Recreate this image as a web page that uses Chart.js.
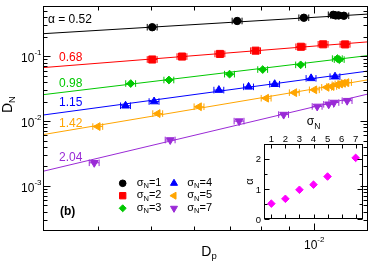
<!DOCTYPE html>
<html>
<head>
<meta charset="utf-8">
<script src="https://cdn.jsdelivr.net/npm/chart.js@4.4.1/dist/chart.umd.min.js"></script>
<style>
  html, body { margin: 0; padding: 0; background: #fff; }
  #wrap { position: relative; width: 374px; height: 264px; }
  #main { position: absolute; left: 0; top: 0; }
  #inset { position: absolute; left: 230px; top: 112px; }
</style>
</head>
<body>
<div id="wrap">
  <canvas id="main" width="374" height="264"></canvas>
  <canvas id="inset" width="140" height="116"></canvas>
</div>
<script>
// sigma_N values and fitted exponents
const sigmaN = [1, 2, 3, 4, 5, 7];
const alphaFit = [0.52, 0.68, 0.98, 1.15, 1.42, 2.04];

// D_p / D_N points per sigma_N
const dp1 = [0.00503, 0.00722, 0.00959, 0.01087, 0.01098, 0.01112, 0.01137];
const dn1 = [0.282, 0.352, 0.395, 0.439, 0.429, 0.429, 0.424];
const dp2 = [0.00503, 0.00571, 0.00671, 0.00781, 0.00947, 0.01041, 0.01143];
const dn2 = [0.0894, 0.0993, 0.109, 0.1224, 0.1407, 0.1535, 0.153];
const dp3 = [0.00459, 0.00540, 0.00699, 0.00805, 0.00946, 0.01106, 0.01115];
const dn3 = [0.0380, 0.0431, 0.0531, 0.0625, 0.0739, 0.0923, 0.0891];
const dp4 = [0.00449, 0.00507, 0.00668, 0.00758, 0.00847, 0.00989, 0.01095];
const dn4 = [0.01724, 0.02002, 0.0301, 0.03376, 0.03708, 0.0457, 0.04849];
const dp5 = [0.00399, 0.00515, 0.00614, 0.00817, 0.00921, 0.01003, 0.01057, 0.01080, 0.01105, 0.01119, 0.01133, 0.01150];
const dn5 = [0.00822, 0.01305, 0.01665, 0.02254, 0.02749, 0.0304, 0.0332, 0.0342, 0.0364, 0.0375, 0.0384, 0.0393];
const dp7 = [0.00393, 0.00543, 0.00728, 0.00880, 0.01015, 0.01066, 0.01090, 0.01153];
const dn7 = [0.002266, 0.0051, 0.00998, 0.0126, 0.01683, 0.01816, 0.01934, 0.02065];

// fit lines: D_N at the left and right ends of the D_p axis
const fitStart = [0.224, 0.067, 0.02555, 0.01239, 0.00617, 0.001674];
const fitEnd = [0.450, 0.1675, 0.1028, 0.0593, 0.0434, 0.02618];

// relative error on D_p
const dpErr = 0.021;

// axis ranges and ticks
const dpRange = [0.00316, 0.0126];
const dnRange = [0.0002, 0.6];
const xMajor = [0.01];
const yMajor = [0.1, 0.01, 0.001];
const insetXTicks = [1, 2, 3, 4, 5, 6, 7];
const insetYTicks = [0, 1, 2];
const insetYHalf = [0.5, 1.5];

const FONT = '"Liberation Sans", Arial, sans-serif';
const colors = ['#000000', '#ff0000', '#00c800', '#0000ff', '#ffa500', '#9a2ad6'];
const styles = [
  { pointStyle: 'circle', r: 3.7, rot: 0 },
  { pointStyle: 'rect', r: 5, rot: 0 },
  { pointStyle: 'rectRot', r: 3.9, rot: 0 },
  { pointStyle: 'triangle', r: 4.5, rot: 0 },
  { pointStyle: 'triangle', r: 4.5, rot: 270 },
  { pointStyle: 'triangle', r: 4.5, rot: 180 }
];
const dpSets = [dp1, dp2, dp3, dp4, dp5, dp7];
const dnSets = [dn1, dn2, dn3, dn4, dn5, dn7];

// text with sub/superscripts: parts = [text, size, dy]
function runs(ctx, parts, x, y, align, bold) {
  let w = 0;
  parts.forEach(p => { ctx.font = (bold ? 'bold ' : '') + p[1] + 'px ' + FONT; w += ctx.measureText(p[0]).width; });
  let cx = align === 'right' ? x - w : align === 'center' ? x - w / 2 : x;
  ctx.textAlign = 'left';
  ctx.textBaseline = 'alphabetic';
  parts.forEach(p => {
    ctx.font = (bold ? 'bold ' : '') + p[1] + 'px ' + FONT;
    ctx.fillText(p[0], cx, y + p[2]);
    cx += ctx.measureText(p[0]).width;
  });
}

const errorBars = {
  id: 'errorBars',
  beforeDatasetsDraw(chart) {
    const ctx = chart.ctx, xs = chart.scales.x, ys = chart.scales.y;
    ctx.save();
    ctx.lineWidth = 1;
    dpSets.forEach((dp, s) => {
      ctx.strokeStyle = colors[s];
      dp.forEach((x, i) => {
        const y = ys.getPixelForValue(dnSets[s][i]);
        const xl = xs.getPixelForValue(x * (1 - dpErr));
        const xr = xs.getPixelForValue(x * (1 + dpErr));
        ctx.beginPath();
        ctx.moveTo(xl, y); ctx.lineTo(xr, y);
        ctx.moveTo(xl, y - 3.3); ctx.lineTo(xl, y + 3.3);
        ctx.moveTo(xr, y - 3.3); ctx.lineTo(xr, y + 3.3);
        ctx.stroke();
      });
    });
    ctx.restore();
  }
};

const mainDecor = {
  id: 'mainDecor',
  afterDraw(chart) {
    const ctx = chart.ctx, a = chart.chartArea;
    const xs = chart.scales.x, ys = chart.scales.y;
    ctx.save();
    ctx.strokeStyle = '#000';
    ctx.fillStyle = '#000';
    ctx.lineWidth = 1;
    const L = Math.round(a.left) + 0.5, R = Math.round(a.right) - 0.5;
    const T = Math.round(a.top) + 0.5, B = Math.round(a.bottom) - 0.5;
    ctx.strokeRect(L, T, R - L, B - T);

    // log minor ticks
    const xMinor = [], yMinor = [];
    for (let d = -4; d <= 0; d++) {
      for (let m = 2; m <= 9; m++) {
        const v = m * Math.pow(10, d);
        if (v > dpRange[0] && v < dpRange[1]) xMinor.push(v);
        if (v > dnRange[0] && v < dnRange[1]) yMinor.push(v);
      }
    }
    ctx.beginPath();
    const xt = (vals, len) => vals.forEach(v => {
      const p = Math.round(xs.getPixelForValue(v)) + 0.5;
      ctx.moveTo(p, B); ctx.lineTo(p, B - len);
      ctx.moveTo(p, T); ctx.lineTo(p, T + len);
    });
    const yt = (vals, len) => vals.forEach(v => {
      const p = Math.round(ys.getPixelForValue(v)) + 0.5;
      ctx.moveTo(L, p); ctx.lineTo(L + len, p);
      ctx.moveTo(R, p); ctx.lineTo(R - len, p);
    });
    xt(xMajor, 7); xt(xMinor, 4);
    yt(yMajor, 7); yt(yMinor, 4);
    ctx.stroke();

    // tick labels
    yMajor.forEach(v => {
      const p = ys.getPixelForValue(v);
      runs(ctx, [['10', 12, 0], [String(Math.round(Math.log10(v))), 8, -7]], 41.5, p + 6, 'right');
    });
    xMajor.forEach(v => {
      const p = xs.getPixelForValue(v);
      runs(ctx, [['10', 12, 0], [String(Math.round(Math.log10(v))), 8, -7]], p + 0.5, 249, 'center');
    });

    // axis titles
    runs(ctx, [['D', 14, 0], ['p', 9.5, 3]], 209, 256, 'center');
    ctx.save();
    ctx.translate(11.7, 104.5);
    ctx.rotate(-Math.PI / 2);
    runs(ctx, [['D', 14, 0], ['N', 9.5, 3]], 0, 0, 'center');
    ctx.restore();

    // exponent labels
    const labX = [48, 59, 59, 59, 59, 59];
    const labY = [22.8, 60.7, 87.3, 106.2, 127.3, 160.7];
    alphaFit.forEach((al, i) => {
      ctx.fillStyle = colors[i];
      const t = (i === 0 ? '\u03b1 = ' : '') + al.toFixed(2);
      runs(ctx, [[t, 12, 0]], labX[i], labY[i], 'left');
    });

    // legend
    const colX = [122.7, 174], txtX = [136.7, 187.3];
    const rowY = [183.3, 195.7, 208.3], baseY = [185.9, 198.3, 210.7];
    sigmaN.forEach((s, i) => {
      const c = Math.floor(i / 3), r = i % 3;
      ctx.fillStyle = colors[i];
      ctx.strokeStyle = colors[i];
      ctx.lineWidth = 1;
      Chart.helpers.drawPoint(ctx, {
        pointStyle: styles[i].pointStyle, radius: styles[i].r * 0.9,
        rotation: styles[i].rot, borderWidth: 1
      }, colX[c], rowY[r]);
      ctx.fillStyle = '#000';
      runs(ctx, [['\u03c3', 11, 0], ['N', 7.5, 2.5], ['=' + s, 11, 0]], txtX[c], baseY[r], 'left');
    });

    // panel label
    ctx.fillStyle = '#000';
    runs(ctx, [['(b)', 12, 0]], 60, 214.5, 'left', true);
    ctx.restore();
  }
};

const datasets = [];
dpSets.forEach((dp, s) => {
  datasets.push({
    type: 'scatter',
    data: dp.map((x, i) => ({ x: x, y: dnSets[s][i] })),
    pointStyle: styles[s].pointStyle,
    pointRadius: styles[s].r,
    pointRotation: styles[s].rot,
    backgroundColor: colors[s],
    borderColor: colors[s],
    borderWidth: 1
  });
});
dpSets.forEach((dp, s) => {
  datasets.push({
    type: 'line',
    data: [{ x: dpRange[0], y: fitStart[s] }, { x: dpRange[1], y: fitEnd[s] }],
    borderColor: colors[s],
    borderWidth: 1,
    pointRadius: 0,
    fill: false
  });
});

new Chart(document.getElementById('main'), {
  type: 'scatter',
  data: { datasets: datasets },
  options: {
    responsive: false,
    animation: false,
    devicePixelRatio: 1,
    layout: { padding: { left: 43, top: 1, right: 1, bottom: 33 } },
    scales: {
      x: { type: 'logarithmic', min: dpRange[0], max: dpRange[1], display: false },
      y: { type: 'logarithmic', min: dnRange[0], max: dnRange[1], display: false }
    },
    plugins: { legend: { display: false }, tooltip: { enabled: false } }
  },
  plugins: [errorBars, mainDecor]
});

// inset: alpha vs sigma_N
const insetDecor = {
  id: 'insetDecor',
  afterDraw(chart) {
    const ctx = chart.ctx, a = chart.chartArea;
    const xs = chart.scales.x, ys = chart.scales.y;
    ctx.save();
    ctx.strokeStyle = '#000';
    ctx.fillStyle = '#000';
    ctx.lineWidth = 1;
    const L = Math.round(a.left) + 0.5, R = Math.round(a.right) - 0.5;
    const T = Math.round(a.top) + 0.5, B = Math.round(a.bottom) - 0.5;
    ctx.strokeRect(L, T, R - L, B - T);
    ctx.beginPath();
    insetXTicks.forEach(v => {
      const p = Math.round(xs.getPixelForValue(v)) + 0.5;
      ctx.moveTo(p, T); ctx.lineTo(p, T + 4);
      ctx.moveTo(p, B); ctx.lineTo(p, B - 4);
    });
    insetYTicks.concat(insetYHalf).forEach(v => {
      const len = insetYHalf.includes(v) ? 3 : 5;
      const p = Math.round(ys.getPixelForValue(v)) + 0.5;
      ctx.moveTo(L, p); ctx.lineTo(L + len, p);
      ctx.moveTo(R, p); ctx.lineTo(R - len, p);
    });
    ctx.stroke();
    insetXTicks.forEach(v => {
      runs(ctx, [[String(v), 9.5, 0]], xs.getPixelForValue(v), 29.7, 'center');
    });
    insetYTicks.forEach(v => {
      runs(ctx, [[String(v), 9.5, 0]], 31, ys.getPixelForValue(v) + 3.4, 'right');
    });
    runs(ctx, [['\u03c3', 12, 0], ['N', 8.5, 4]], (a.left + a.right) / 2, 13, 'center');
    ctx.save();
    ctx.translate(22.5, (a.top + a.bottom) / 2);
    ctx.rotate(-Math.PI / 2);
    runs(ctx, [['\u03b1', 11, 0]], 0, 0, 'center');
    ctx.restore();
    ctx.restore();
  }
};

new Chart(document.getElementById('inset'), {
  type: 'scatter',
  data: {
    datasets: [{
      data: sigmaN.map((s, i) => ({ x: s, y: alphaFit[i] })),
      pointStyle: 'rectRot',
      pointRadius: 3.8,
      backgroundColor: '#ff00ff',
      borderColor: '#ff00ff',
      borderWidth: 1
    }]
  },
  options: {
    responsive: false,
    animation: false,
    devicePixelRatio: 1,
    layout: { padding: { left: 34.3, top: 32, right: 7.3, bottom: 8.7 } },
    scales: {
      x: { type: 'linear', min: 0.5, max: 7.5, display: false },
      y: { type: 'linear', min: 0, max: 2.5, display: false }
    },
    plugins: { legend: { display: false }, tooltip: { enabled: false } }
  },
  plugins: [insetDecor]
});
</script>
</body>
</html>
